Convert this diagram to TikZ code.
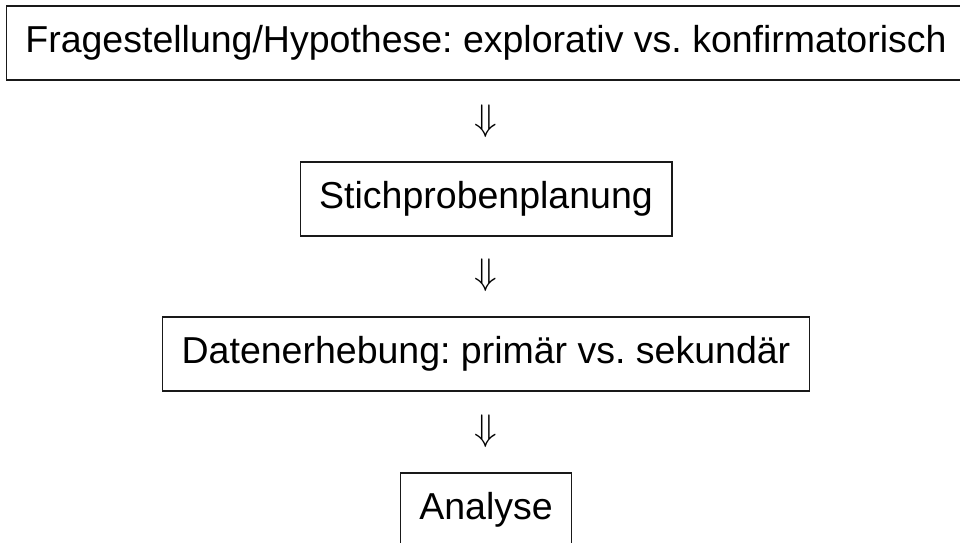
\documentclass[tikz,border=0pt]{standalone}
\usepackage{fontspec}
\setmainfont{Liberation Sans}
\usepackage{amsmath,amssymb,graphicx}
\definecolor{fbline}{RGB}{25,25,25}
\frenchspacing

\begin{document}
\begin{tikzpicture}[x=1pt, y=-1pt,
    stufe/.style={draw=fbline, line width=1.4pt, minimum height=74pt,
      inner xsep=19pt, font=\fontsize{37.5}{45}\selectfont},
    pfeil/.style={inner sep=0pt}]
    \useasboundingbox (0,0) rectangle (960,542);
    \node[stufe] (frage) at (486,43) {Fragestellung/Hypothese: explorativ vs. konfirmatorisch};
    \node[pfeil] (p1) at (486,121) {\scalebox{3.7}{\(\Downarrow\)}};
    \node[stufe] (plan) at (486,199) {Stichprobenplanung};
    \node[pfeil] (p2) at (486,275) {\scalebox{3.7}{\(\Downarrow\)}};
    \node[stufe] (daten) at (486,354) {Datenerhebung: primär vs. sekundär};
    \node[pfeil] (p3) at (486,431) {\scalebox{3.7}{\(\Downarrow\)}};
    \node[stufe] (analyse) at (486,510) {Analyse};
  \end{tikzpicture}
\end{document}
